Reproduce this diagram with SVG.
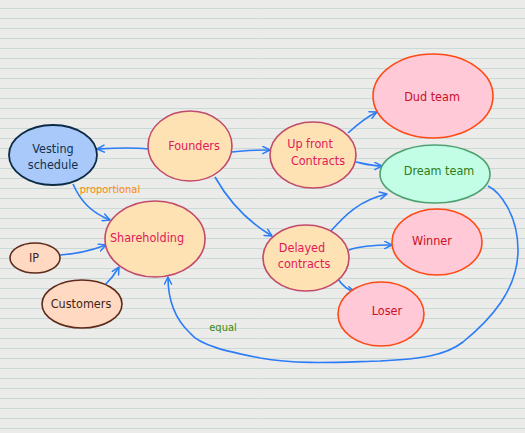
<svg xmlns="http://www.w3.org/2000/svg" width="525" height="433" viewBox="0 0 525 433">
<defs>
<pattern id="lines" width="525" height="10" patternUnits="userSpaceOnUse" y="0">
<rect width="525" height="10" fill="#ebebea"/>
<line x1="0" y1="8.5" x2="525" y2="8.5" stroke="#c9d9d5" stroke-width="1"/>
</pattern>
<marker id="arr" viewBox="0 0 10 10" refX="9" refY="5" markerWidth="9" markerHeight="9" orient="auto" markerUnits="userSpaceOnUse">
<path d="M1,1 L9,5 L1,9" fill="none" stroke="#2b7cf6" stroke-width="1.6" stroke-linecap="round" stroke-linejoin="round"/>
</marker>
</defs>
<style>
text{font-family:"Liberation Sans Narrow","DejaVu Sans Condensed","Liberation Sans",sans-serif;font-size:12.5px;text-anchor:middle}
.c{fill:none;stroke:#2b7cf6;stroke-width:1.6;marker-end:url(#arr)}
.org{fill:#ffe2b4;stroke:#c24a6a;stroke-width:1.6}
.tor{fill:#e0195a}
.pink{fill:#ffc9d8;stroke:#ff4a14;stroke-width:1.6}
.tr{fill:#cc0f24}
.lbl{font-size:11px}
</style>
<rect width="525" height="433" fill="url(#lines)"/>
<g id="connectors">
<path class="c" d="M148,149 C130,147 115,148 97,149"/>
<path class="c" d="M232,152 C245,150 258,150 270,150"/>
<path class="c" d="M215,177 C228,200 245,220 272,236"/>
<path class="c" d="M348,133 C358,124 366,117 377,112"/>
<path class="c" d="M356,162 C365,164 372,166 382,166"/>
<path class="c" d="M330,232 C345,215 360,200 387,194"/>
<path class="c" d="M349,250 C360,246 375,245 392,245"/>
<path class="c" d="M338,279 C342,285 347,290 355,292"/>
<path class="c" d="M73,184 C80,200 90,212 110,220"/>
<path class="c" d="M60,255 C75,254 90,251 106,245"/>
<path class="c" d="M105,285 C110,280 115,274 119,267"/>
<path class="c" d="M488,186 C500,192 518,215 518,250 C518,290 490,320 463,342 C445,356 420,359 380,361 C340,362 300,365 260,358 C230,352 200,346 190,333 C176,320 168,300 168,277"/>
<text x="110" y="193" class="lbl" fill="#ff8c00">proportional</text>
<text x="223" y="331" class="lbl" fill="#3a8a10">equal</text>
</g>
<g id="vesting">
<ellipse cx="53" cy="155" rx="44" ry="30" fill="#a9c9fb" stroke="#0c2b44" stroke-width="1.8"/>
<text x="53" y="153" fill="#12304a">Vesting</text>
<text x="53" y="169" fill="#12304a">schedule</text>
</g>
<g id="founders">
<ellipse class="org" cx="190" cy="146" rx="42" ry="35"/>
<text class="tor" x="194" y="150">Founders</text>
</g>
<g id="upfront">
<ellipse class="org" cx="313" cy="155" rx="43" ry="33"/>
<text class="tor" x="310" y="148">Up front</text>
<text class="tor" x="318" y="165">Contracts</text>
</g>
<g id="dud">
<ellipse class="pink" cx="433" cy="96" rx="60" ry="42"/>
<text class="tr" x="432" y="101">Dud team</text>
</g>
<g id="dream">
<ellipse cx="435" cy="174" rx="55" ry="29" fill="#c2fde6" stroke="#4fa172" stroke-width="1.6"/>
<text x="439" y="175" fill="#2f7d12">Dream team</text>
</g>
<g id="shareholding">
<ellipse class="org" cx="155" cy="239" rx="50" ry="38"/>
<text class="tor" x="147" y="242">Shareholding</text>
</g>
<g id="ip">
<ellipse cx="35" cy="258" rx="25" ry="15" fill="#ffd9c2" stroke="#5e2a1c" stroke-width="1.6"/>
<text x="34" y="262" fill="#3e2418">IP</text>
</g>
<g id="customers">
<ellipse cx="82" cy="304" rx="40" ry="24" fill="#ffd9c2" stroke="#5e2a1c" stroke-width="1.6"/>
<text x="81" y="308" fill="#3e2418">Customers</text>
</g>
<g id="delayed">
<ellipse class="org" cx="306" cy="258" rx="43" ry="33"/>
<text class="tor" x="302" y="252">Delayed</text>
<text class="tor" x="304" y="268">contracts</text>
</g>
<g id="winner">
<ellipse class="pink" cx="437" cy="242" rx="45" ry="33"/>
<text class="tr" x="432" y="245">Winner</text>
</g>
<g id="loser">
<ellipse class="pink" cx="381" cy="314" rx="43" ry="32"/>
<text class="tr" x="387" y="315">Loser</text>
</g>
</svg>
